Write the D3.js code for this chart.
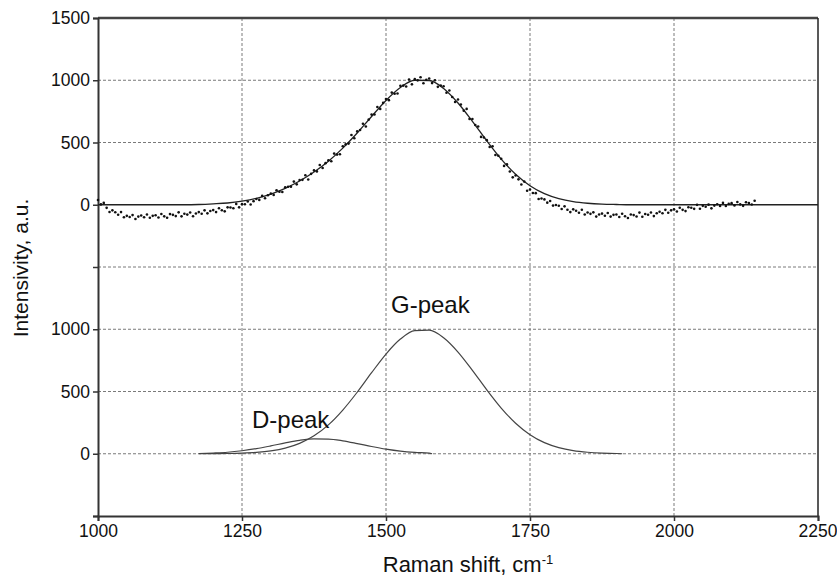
<!DOCTYPE html>
<html>
<head>
  <title>Raman spectrum, D and G peaks</title>
  <script src="https://d3js.org/d3.v7.min.js"></script>
  <style>
    body { margin: 0; background: #fff; }
    text { font-family: "Liberation Sans", Arial, Helvetica, sans-serif; fill: #111; }
  </style>
</head>
<body>
  <svg width="837" height="577"></svg>
</body>
<script>

// measured spectrum, one reading every 5 cm-1 from 1000 to 2140
const measShift = d3.range(1000, 2141, 5);
const measured = [
  38, 3, 15, -25, -58, -45, -60, -80, -59, -101,
  -89, -98, -83, -115, -95, -86, -101, -78, -104, -89,
  -84, -103, -74, -93, -104, -75, -81, -91, -61, -93,
  -72, -79, -62, -92, -70, -59, -72, -45, -69, -50,
  -43, -59, -28, -44, -53, -21, -22, -28, 7, -21,
  5, 4, 26, 2, 29, 46, 39, 71, 52, 76,
  89, 79, 116, 105, 102, 140, 145, 145, 186, 164,
  199, 200, 237, 203, 248, 276, 268, 319, 295, 334,
  357, 349, 411, 403, 406, 470, 485, 491, 560, 534,
  589, 601, 650, 628, 684, 724, 725, 785, 770, 818,
  850, 840, 901, 891, 893, 955, 957, 950, 1006, 967,
  1009, 999, 1024, 976, 1004, 1014, 977, 1000, 947, 958,
  952, 900, 918, 866, 825, 845, 805, 756, 770, 689,
  689, 640, 628, 545, 540, 519, 464, 470, 399, 393,
  369, 312, 324, 267, 220, 235, 204, 163, 186, 113,
  122, 94, 93, 46, 50, 43, 17, 30, -7, -2,
  -8, -34, -13, -40, -59, -37, -48, -64, -40, -78,
  -62, -73, -61, -95, -78, -71, -88, -66, -95, -81,
  -78, -98, -72, -92, -106, -78, -83, -94, -63, -96,
  -74, -80, -62, -91, -68, -56, -68, -41, -64, -45,
  -37, -54, -24, -41, -51, -20, -24, -33, -1, -32,
  -9, -16, 1, -29, -7, 4, -10, 15, -10, 7,
  13, -6, 22, 3, -9, 20, 14, 2, 32
];

// fitted components (lower panel) and their sum (upper panel)
const peakShift = [1175, 1200, 1225, 1250, 1275, 1300, 1325, 1350, 1375, 1400,
  1425, 1450, 1475, 1500, 1525, 1550, 1575, 1600, 1625, 1650,
  1675, 1700, 1725, 1750, 1775, 1800, 1825, 1850, 1875, 1900, 1910];
const gPeak = [0, 1, 2, 5, 11, 23, 45, 83, 144, 232,
  351, 494, 651, 801, 921, 989, 993, 932, 817, 670,
  513, 367, 245, 153, 89, 49, 25, 12, 5, 2, 0];
const dPeak = [2, 6, 12, 24, 41, 63, 87, 108, 119, 118,
  104, 82, 58, 37, 21, 11, 5];
const fitShift = [1000, 1150, 1175, 1200, 1225, 1250, 1275, 1300, 1325, 1350, 1375, 1400,
  1425, 1450, 1475, 1500, 1525, 1550, 1575, 1600, 1625, 1650,
  1675, 1700, 1725, 1750, 1775, 1800, 1825, 1850, 1875, 1900, 1925, 2250];
const fitSum = [0, 0, 2, 7, 14, 29, 52, 86, 132, 191, 263, 350,
  455, 576, 709, 838, 942, 1000, 998, 934, 817, 670,
  513, 367, 245, 153, 89, 49, 25, 12, 5, 2, 0, 0];

const xTicks = [1000, 1250, 1500, 1750, 2000, 2250];
// one continuous scale; lower panel sits 2000 units below the upper one
const lowerOffset = -2000;
const yTicks = [-2500, -2000, -1500, -1000, -500, 0, 500, 1000, 1500];
const yTickLabels = ['', '0', '500', '1000', '', '0', '500', '1000', '1500'];

const plotL = 98, plotR = 818, plotT = 18, plotB = 516;

let svg = d3.select('svg');

let x = d3.scaleLinear().domain([1000, 2250]).range([plotL, plotR]);
let y = d3.scaleLinear().domain([-2500, 1500]).range([plotB, plotT]);

// grid
let grid = svg.append('g').attr('stroke', '#7a7a7a').attr('stroke-width', 1).attr('stroke-dasharray', '3,2');
xTicks.slice(1, -1).forEach(v => {
  grid.append('line').attr('x1', x(v)).attr('x2', x(v)).attr('y1', plotT).attr('y2', plotB);
});
yTicks.slice(1, -1).forEach(v => {
  if (v === 0) return;
  grid.append('line').attr('x1', plotL).attr('x2', plotR).attr('y1', y(v)).attr('y2', y(v));
});

// frame
svg.append('line').attr('x1', plotL).attr('x2', plotR).attr('y1', plotT).attr('y2', plotT)
  .attr('stroke', '#444').attr('stroke-width', 2.5);
svg.append('line').attr('x1', plotR).attr('x2', plotR).attr('y1', plotT).attr('y2', plotB)
  .attr('stroke', '#222').attr('stroke-width', 1.5);

// axes
let xAxis = svg.append('g').attr('transform', 'translate(0,' + plotB + ')')
  .call(d3.axisBottom(x).tickValues(xTicks).tickSize(5).tickPadding(4).tickFormat(d3.format('d')));
let yAxis = svg.append('g').attr('transform', 'translate(' + plotL + ',0)')
  .call(d3.axisLeft(y).tickValues(yTicks).tickSize(5).tickPadding(3).tickFormat((d, i) => yTickLabels[i]));
[xAxis, yAxis].forEach(a => {
  a.select('.domain').attr('stroke', '#333').attr('stroke-width', 2);
  a.selectAll('.tick line').attr('stroke', '#333').attr('stroke-width', 1.5);
  a.selectAll('.tick text').attr('font-size', 17.5).attr('fill', '#111')
    .attr('font-family', '"Liberation Sans", Arial, sans-serif');
});
// last label sits against the page edge
xAxis.selectAll('.tick text').filter(d => d === 2250).attr('text-anchor', 'end').attr('dx', 19);

// upper panel: fit line and measured points
let line = d3.line().curve(d3.curveMonotoneX);
svg.append('path')
  .attr('d', line(fitShift.map((s, i) => [x(s), y(fitSum[i])])))
  .attr('fill', 'none').attr('stroke', '#222').attr('stroke-width', 1.3);

svg.append('g').selectAll('circle')
  .data(measured)
  .join('circle')
  .attr('cx', (d, i) => x(measShift[i]))
  .attr('cy', d => y(d))
  .attr('r', 1.3)
  .attr('fill', '#111');

// lower panel: D and G components
svg.append('path')
  .attr('d', line(peakShift.map((s, i) => [x(s), y(gPeak[i] + lowerOffset)])))
  .attr('fill', 'none').attr('stroke', '#444').attr('stroke-width', 1.2);
svg.append('path')
  .attr('d', line(dPeak.map((v, i) => [x(peakShift[i]), y(v + lowerOffset)]).concat([[x(1580), y(lowerOffset)]])))
  .attr('fill', 'none').attr('stroke', '#444').attr('stroke-width', 1.2);

svg.append('text').attr('x', 252).attr('y', 428).attr('font-size', 24).text('D-peak');
svg.append('text').attr('x', 391).attr('y', 313).attr('font-size', 24).text('G-peak');

// axis titles
let xt = svg.append('text').attr('x', 468).attr('y', 572).attr('text-anchor', 'middle').attr('font-size', 22);
xt.append('tspan').text('Raman shift, cm');
xt.append('tspan').attr('font-size', 13).attr('dy', -8).text('-1');

svg.append('text')
  .attr('transform', 'translate(28,268) rotate(-90)')
  .attr('text-anchor', 'middle')
  .attr('font-size', 21)
  .text('Intensivity, a.u.');

</script>
</html>
